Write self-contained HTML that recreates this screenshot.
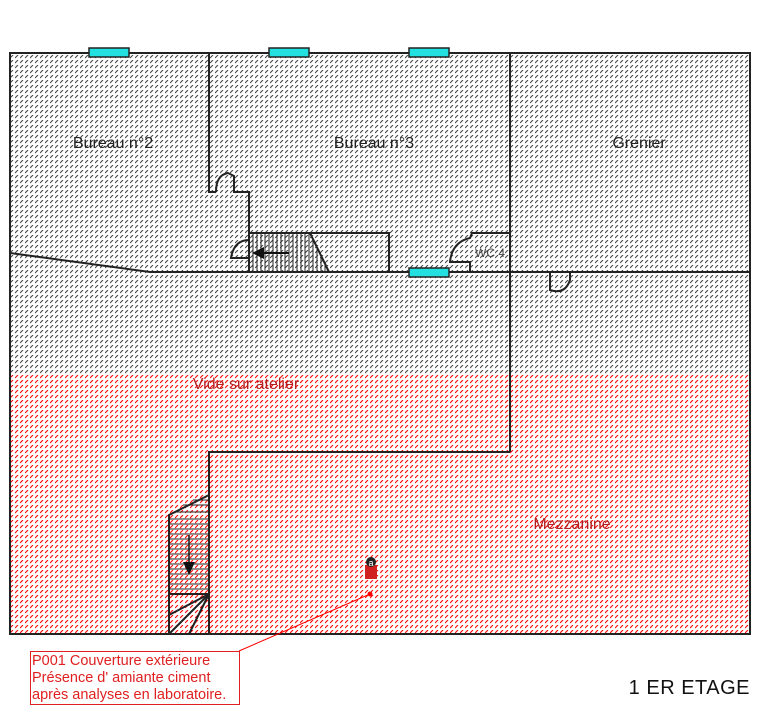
<!DOCTYPE html>
<html><head><meta charset="utf-8"><style>
html,body{margin:0;padding:0;background:#fff;}
svg{display:block;font-family:"Liberation Sans",Arial,sans-serif;}
</style></head><body>
<svg width="761" height="717" viewBox="0 0 761 717" xmlns="http://www.w3.org/2000/svg">
<defs>
<pattern id="pg" width="5" height="5" patternUnits="userSpaceOnUse">
<line x1="0" y1="3" x2="3" y2="0" stroke="#444" stroke-width="1.1"/>
</pattern>
<pattern id="pr" width="5" height="5" patternUnits="userSpaceOnUse">
<line x1="0" y1="3" x2="3" y2="0" stroke="#f00" stroke-width="1.1"/>
</pattern>
</defs>
<rect x="10" y="53" width="740" height="320" fill="url(#pg)"/>
<rect x="10" y="373" width="740" height="261" fill="url(#pr)"/>
<g fill="none" stroke="#222" stroke-width="2">
<rect x="10" y="53" width="740" height="581"/>
<polyline points="209,53 209,192 216,192"/>
<path d="M216,192 Q216,175 228,173 L234,176 L234,192 L249,192 L249,233"/>
<line x1="510" y1="53" x2="510" y2="452"/>
<polyline points="510,452 209,452 209,634"/>
<polyline points="10,253 150,272 750,272"/>
<rect x="249" y="233" width="140" height="39"/>
<line x1="310" y1="233" x2="329" y2="272"/>
<path d="M249,240 Q234,240 231,258 L249,258"/>
<path d="M510,233 L472,233 L470,238 Q452,242 450,262 L470,262 L470,272"/>
<path d="M550,272 L550,290 Q565,295 570,280 L570,272"/>
<polyline points="169,634 169,515 209,495"/>
<line x1="169" y1="594" x2="209" y2="594"/>
<line x1="169" y1="615" x2="209" y2="594"/>
<line x1="169" y1="634" x2="209" y2="594"/>
<line x1="189" y1="634" x2="209" y2="594"/>
</g>
<g stroke="#222" stroke-width="1">
<path d="M253,233V272M257,233V272M261,233V272M265,233V272M269,233V272M273,233V272M277,233V272M281,233V272M285,233V272M289,233V272M293,233V272M297,233V272M301,233V272M305,233V272M309,233V272M313,240V272M317,248V272M321,256V272M325,264V272"/>
<path d="M169,519H209M169,524H209M169,529H209M169,534H209M169,539H209M169,544H209M169,549H209M169,554H209M169,559H209M169,564H209M169,569H209M169,574H209M169,579H209M169,584H209M169,589H209M183,505H209M193,500H209M175,512H209"/>
</g>
<line x1="289" y1="253" x2="260" y2="253" stroke="#111" stroke-width="2"/>
<polygon points="252,253 264,247 264,259" fill="#111"/>
<line x1="189" y1="535" x2="189" y2="568" stroke="#111" stroke-width="1.5"/>
<polygon points="189,575 183,562 195,562" fill="#111"/>
<g fill="#22e0e0" stroke="#222" stroke-width="1.5">
<rect x="89" y="48" width="40" height="9"/>
<rect x="269" y="48" width="40" height="9"/>
<rect x="409" y="48" width="40" height="9"/>
<rect x="409" y="268" width="40" height="9"/>
</g>
<g font-size="16" fill="#222" text-anchor="middle">
<text x="113" y="148">Bureau n°2</text>
<text x="374" y="148">Bureau n°3</text>
<text x="639" y="148">Grenier</text>
</g>
<text x="490" y="257" font-size="12" fill="#444" text-anchor="middle">WC 4</text>
<text x="246" y="389" font-size="16" fill="#b02020" text-anchor="middle">Vide sur atelier</text>
<text x="572" y="529" font-size="16" fill="#b02020" text-anchor="middle">Mezzanine</text>
<rect x="365" y="565" width="12" height="14" fill="#d02020"/>
<circle cx="371" cy="562" r="5" fill="#222"/>
<text x="371" y="566" font-size="9" fill="#fff" text-anchor="middle">a</text>
<circle cx="370" cy="594" r="2.5" fill="#f00"/>
<line x1="370" y1="594" x2="239" y2="651" stroke="#f00" stroke-width="1"/>
<rect x="30.5" y="651.5" width="209" height="53" fill="#fff" stroke="#e02020" stroke-width="1"/>
<g font-size="14.5" fill="#e02020">
<text x="32" y="665">P001 Couverture extérieure</text>
<text x="32" y="682">Présence d' amiante ciment</text>
<text x="32" y="699">après analyses en laboratoire.</text>
</g>
<text x="750" y="694" font-size="20" fill="#111" text-anchor="end" letter-spacing="0.5">1 ER ETAGE</text>
</svg>
</body></html>
